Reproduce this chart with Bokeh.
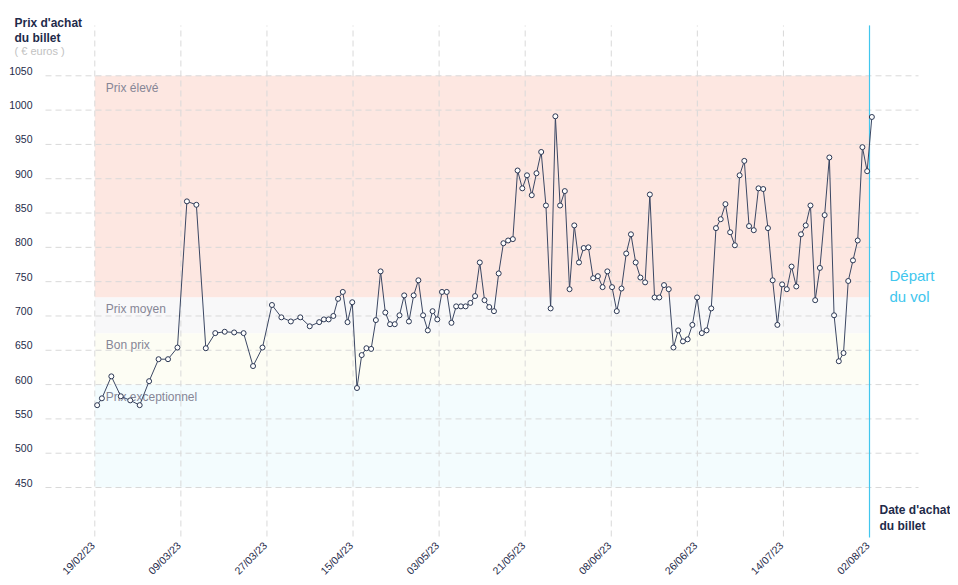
import math
from datetime import datetime
from bokeh.plotting import figure
from bokeh.models import ColumnDataSource, Range1d
from bokeh.embed import file_html
from bokeh.resources import INLINE
from bokeh.core.properties import value

# ---------------- data ----------------
debut = datetime(2023, 2, 19)          # first tick
depart = datetime(2023, 8, 2)          # flight departure
# day offsets (from 19/02/23) of each price reading
jours = [0, 1, 3, 5, 7, 9, 11, 13, 15, 17, 19, 21, 23, 25, 27, 29, 31, 33, 35, 37,
         39, 41, 43, 45, 47, 48, 49, 50, 51, 52, 53, 54, 55, 56, 57, 58, 59, 60, 61, 62,
         63, 64, 65, 66, 67, 68, 69, 70, 71, 72, 73, 74, 75, 76, 77, 78, 79, 80, 81, 82,
         83, 84, 85, 86, 87, 88, 89, 90, 91, 92, 93, 94, 95, 96, 97, 98, 99, 100, 101, 102,
         103, 104, 105, 106, 107, 108, 109, 110, 111, 112, 113, 114, 115, 116, 117, 118, 119, 120, 121, 122,
         123, 124, 125, 126, 127, 128, 129, 130, 131, 132, 133, 134, 135, 136, 137, 138, 139, 140, 141, 142,
         143, 144, 145, 146, 147, 148, 149, 150, 151, 152, 153, 154, 155, 156, 157, 158, 159, 160, 161, 162,
         163, 164]
prix = [570, 580, 612, 583, 577, 570, 605, 637, 637, 654, 867, 862, 653, 675, 677, 676, 675, 627, 654, 716,
        698, 692, 698, 685, 691, 695, 695, 700, 725, 735, 691, 720, 595, 643, 653, 652, 694, 765, 705, 688,
        688, 701, 730, 692, 730, 752, 701, 679, 707, 695, 735, 735, 690, 714, 714, 714, 719, 729, 778, 723,
        713, 707, 762, 806, 810, 812, 912, 886, 905, 876, 908, 939, 861, 711, 991, 861, 882, 739, 832, 778,
        799, 800, 755, 758, 742, 765, 742, 707, 740, 791, 819, 778, 756, 749, 877, 727, 727, 745, 739, 654,
        679, 663, 666, 687, 727, 675, 679, 711, 828, 841, 863, 822, 803, 905, 926, 831, 825, 886, 885, 828,
        752, 687, 746, 739, 772, 743, 819, 832, 861, 723, 770, 847, 931, 701, 634, 646, 751, 781, 810, 946,
        911, 990]
x_labels = ["19/02/23", "09/03/23", "27/03/23", "15/04/23", "03/05/23",
            "21/05/23", "08/06/23", "26/06/23", "14/07/23", "02/08/23"]
y_ticks = [450, 500, 550, 600, 650, 700, 750, 800, 850, 900, 950, 1000, 1050]
bande_noms = ["Prix élevé", "Prix moyen", "Bon prix", "Prix exceptionnel"]
bande_haut = [1050, 727, 675, 600]
bande_bas = [727, 675, 600, 450]
bande_couleurs = ["#fde7e1", "#f8f8f9", "#fdfdf4", "#f3fcfe"]

# ---------------- helpers ----------------
EPOCH = datetime(1970, 1, 1)
DAY = 86400000.0


def ms(dt):
    return (dt - EPOCH).total_seconds() * 1000.0


t0 = ms(debut)
t_dep = ms(depart)
step = (t_dep - t0) / (len(x_labels) - 1)
x_ticks = [t0 + i * step for i in range(len(x_labels))]

# layout geometry, in picture pixels -> data units
PXD = 4.7238      # px per day
PXV = 0.6862      # px per euro


def px_x(x):
    return t0 + (x - 94.3) / PXD * DAY


def px_y(y):
    return 1050 - (y - 75.3) / PXV


xs = [t0 + (d + 0.5) * DAY for d in jours]   # readings at noon
src = ColumnDataSource(dict(x=xs, y=prix))

NAVY = "#1f2b4a"
CYAN = "#41c6ee"
FONT = "Liberation Sans"
GRID = "#d9d9d9"

W, H = 950, 585
p = figure(width=W, height=H, output_backend="svg", toolbar_location=None,
           x_range=Range1d(px_x(0), px_x(W)), y_range=Range1d(px_y(H), px_y(0)),
           min_border=0, outline_line_color=None,
           background_fill_color="white", border_fill_color="white")
p.xaxis.visible = False
p.yaxis.visible = False
p.xgrid.visible = False
p.ygrid.visible = False

# bands
bsrc = ColumnDataSource(dict(left=[t0] * 4, right=[t_dep] * 4, top=bande_haut, bottom=bande_bas,
                             color=bande_couleurs, name=bande_noms))
p.quad(left="left", right="right", top="top", bottom="bottom", fill_color="color",
       line_color=None, source=bsrc)

# grid lines
g_left, g_right = px_x(45), px_x(918)
g_top, g_bot = px_y(25), px_y(536)
p.segment(x0=[g_left] * len(y_ticks), x1=[g_right] * len(y_ticks), y0=y_ticks, y1=y_ticks,
          line_color=GRID, line_dash="6 4", line_width=1)
p.segment(x0=x_ticks, x1=x_ticks, y0=[g_bot] * len(x_ticks), y1=[g_top] * len(x_ticks),
          line_color=GRID, line_dash="6 4", line_width=1)

# band names
p.text(x="left", y="top", text="name", source=bsrc, x_offset=11, y_offset=5,
       text_baseline="top", text_align="left", text_color="#868696",
       text_font=value(FONT), text_font_size="12px")

# white box behind the departure label
p.quad(left=[px_x(871)], right=[px_x(958)], top=[px_y(244)], bottom=[px_y(326)],
       fill_color="white", line_color=None)

# departure line
p.segment(x0=[t_dep], x1=[t_dep], y0=[px_y(537)], y1=[g_top], line_color=CYAN, line_width=1.2)

# series
p.line("x", "y", source=src, line_color="#3b4763", line_width=1)
p.scatter("x", "y", source=src, size=5, fill_color="white", line_color="#2b3753",
          line_width=1)

# tick labels
p.text(x=[px_x(32)] * len(y_ticks), y=y_ticks, text=[str(v) for v in y_ticks], y_offset=-5,
       text_align="right", text_baseline="middle", text_color=NAVY,
       text_font=value(FONT), text_font_size="10.5px")
p.text(x=x_ticks, y=[px_y(543)] * len(x_ticks), text=x_labels, angle=math.pi / 4, x_offset=-2,
       text_align="right", text_baseline="middle", text_color=NAVY,
       text_font=value(FONT), text_font_size="10.5px")


def lab(x, y, text, size="12px", color=NAVY, style="normal"):
    p.text(x=[px_x(x)], y=[px_y(y)], text=[text], text_font=value(FONT), text_font_size=size,
           text_color=color, text_font_style=style, text_baseline="alphabetic",
           text_align="left")


lab(14, 22.5, "Prix d'achat", style="bold")
lab(14, 37, "du billet", style="bold")
lab(14, 50.5, "( € euros )", size="11px", color="#c2c2c2")
lab(879, 509, "Date d'achat", style="bold")
lab(879, 525, "du billet", style="bold")
lab(889, 275, "Départ", size="15px", color=CYAN)
lab(889, 296, "du vol", size="15px", color=CYAN)

open("out.html", "w").write(file_html(p, INLINE))
